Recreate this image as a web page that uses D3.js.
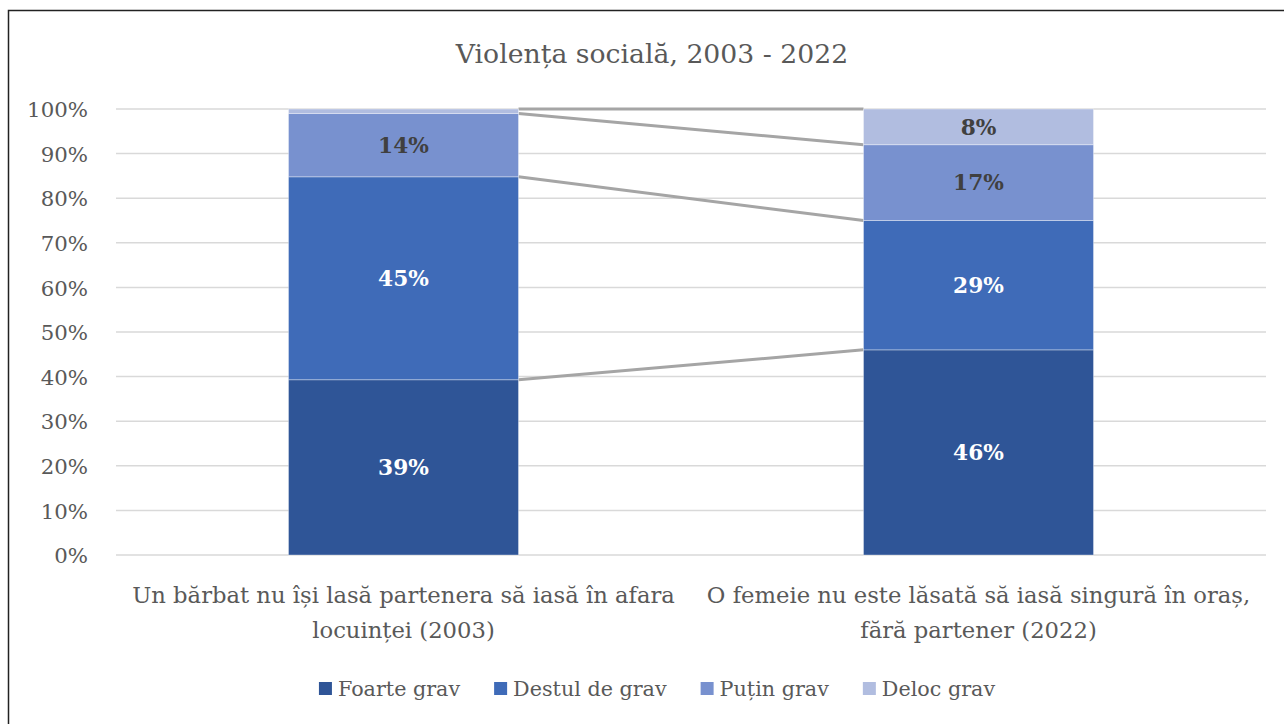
<!DOCTYPE html>
<html><head><meta charset="utf-8">
<script src="https://cdn.jsdelivr.net/npm/d3@7"></script>
<style>body{margin:0;background:#fff}svg{display:block}</style>
</head><body>
<svg id="c" width="1284" height="724"></svg>
<script>
const categories = [
  ["Un bărbat nu își lasă partenera să iasă în afara", "locuinței (2003)"],
  ["O femeie nu este lăsată să iasă singură în oraș,", "fără partener (2022)"]
];
const seriesNames = ["Foarte grav", "Destul de grav", "Puțin grav", "Deloc grav"];
const foarteGrav = [39.3, 46.0];
const destulDeGrav = [45.5, 29.0];
const putinGrav = [14.2, 17.0];
const delocGrav = [1.0, 8.0];
const labels = [["39%", "46%"], ["45%", "29%"], ["14%", "17%"], ["", "8%"]];
const yTicks = [0,10,20,30,40,50,60,70,80,90,100];
const colors = ["#2F5597", "#3F6BB8", "#7891CF", "#B1BDE0"];
const labelColors = ["#ffffff", "#ffffff", "#404040", "#404040"];
const font = "'DejaVu Serif', serif";

const svg = d3.select("#c");
svg.append("rect").attr("x",8.5).attr("y",10.5).attr("width",1400).attr("height",800)
  .attr("fill","none").attr("stroke","#222").attr("stroke-width",1.5);

svg.append("text").attr("x",652).attr("y",63).attr("text-anchor","middle")
  .attr("font-family",font).attr("font-size",26.7).attr("fill","#595959")
  .text("Violența socială, 2003 - 2022");

const x = d3.scaleBand().domain([0,1]).range([116,1266]).paddingInner(0.6).paddingOuter(0.3);
const y = d3.scaleLinear().domain([0,100]).range([555,109]);

// gridlines
svg.append("g").selectAll("line").data(yTicks).join("line")
  .attr("x1",116).attr("x2",1266).attr("y1",d=>y(d)).attr("y2",d=>y(d))
  .attr("stroke","#D9D9D9").attr("stroke-width",1.5);

// y tick labels
const yAxis = d3.axisLeft(y).tickValues(yTicks).tickFormat(d=>d+"%").tickSize(0).tickPadding(0);
const ga = svg.append("g").attr("transform","translate(88,0)").call(yAxis);
ga.select(".domain").remove();
ga.selectAll("text").attr("font-family",font).attr("font-size",21.3).attr("fill","#595959").attr("dy","0.36em");

const data = [0,1].map(i=>({i, "Foarte grav":foarteGrav[i], "Destul de grav":destulDeGrav[i], "Puțin grav":putinGrav[i], "Deloc grav":delocGrav[i]}));
const stack = d3.stack().keys(seriesNames)(data);

// series lines connecting bars
const lineLevels = stack.slice(0,3).map(s=>s.map(d=>d[1]));
lineLevels.push([100,100]);
svg.append("g").selectAll("line").data(lineLevels).join("line")
  .attr("x1",x(0)+x.bandwidth()).attr("x2",x(1))
  .attr("y1",d=>y(d[0])).attr("y2",d=>y(d[1]))
  .attr("stroke","#A5A5A5").attr("stroke-width",3);

const bw = x.bandwidth();
stack.forEach((s,k)=>{
  svg.append("g").selectAll("rect").data(s).join("rect")
    .attr("x",d=>x(d.data.i)).attr("width",bw)
    .attr("y",d=>y(d[1])).attr("height",d=>y(d[0])-y(d[1]))
    .attr("fill",colors[k]).attr("stroke","#ffffff").attr("stroke-opacity",0.35).attr("stroke-width",1);
  svg.append("g").selectAll("text").data(s).join("text")
    .attr("x",d=>x(d.data.i)+bw/2).attr("y",d=>y((d[0]+d[1])/2))
    .attr("dy","0.36em").attr("text-anchor","middle")
    .attr("font-family",font).attr("font-weight","bold").attr("font-size",21.7)
    .attr("fill",labelColors[k]).text((d,j)=>labels[k][j]);
});

// category labels
categories.forEach((lines,i)=>{
  const t = svg.append("text").attr("text-anchor","middle").attr("font-family",font)
    .attr("font-size",22.7).attr("fill","#595959");
  lines.forEach((ln,j)=>t.append("tspan").attr("x",x(i)+bw/2).attr("y",603+j*35).text(ln));
});

// legend
const lg = svg.append("g");
let cx = 0;
seriesNames.forEach((n,k)=>{
  lg.append("rect").attr("x",cx).attr("y",682).attr("width",13).attr("height",13).attr("fill",colors[k]);
  const t = lg.append("text").attr("x",cx+19).attr("y",696).attr("font-family",font)
    .attr("font-size",20.7).attr("fill","#595959").text(n);
  cx += 19 + t.node().getComputedTextLength() + 34;
});
const lw = cx - 34;
lg.attr("transform",`translate(${657 - lw/2},0)`);
</script>
</body></html>
